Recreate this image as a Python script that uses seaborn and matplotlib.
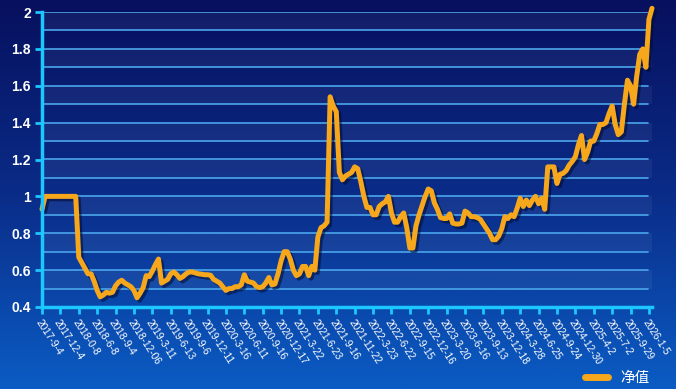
import numpy as np
import pandas as pd
import seaborn as sns
import matplotlib
matplotlib.use('Agg')
import matplotlib.pyplot as plt
import matplotlib.patheffects as pe
from matplotlib.colors import LinearSegmentedColormap
from matplotlib.lines import Line2D

# ---- data ----
tick_labels = ["2017-9-4", "2017-12-4", "2018-0-8", "2018-6-8", "2018-9-4", "2018-12-06",
               "2019-3-11", "2019-6-13", "2019-9-6", "2019-12-11", "2020-3-16", "2020-6-11",
               "2020-9-16", "2020-12-17", "2021-3-22", "2021-6-23", "2021-9-16", "2021-11-22",
               "2022-3-23", "2022-6-22", "2022-9-15", "2022-12-16", "2023-3-20", "2023-6-16",
               "2023-9-13", "2023-12-18", "2024-3-28", "2024-6-25", "2024-9-24", "2024-12-30",
               "2025-4-2", "2025-7-2", "2025-9-29", "2026-1-5"]

nav = [0.93, 1.0, 1.0, 1.0, 1.0, 1.0, 1.0, 1.0, 1.0, 1.0,
       1.0, 1.0, 0.67, 0.64, 0.61, 0.58, 0.58, 0.54, 0.49, 0.455,
       0.465, 0.48, 0.475, 0.48, 0.515, 0.535, 0.545, 0.53, 0.52, 0.51,
       0.49, 0.45, 0.475, 0.505, 0.57, 0.565, 0.595, 0.63, 0.66, 0.53,
       0.54, 0.55, 0.58, 0.59, 0.575, 0.555, 0.565, 0.58, 0.59, 0.59,
       0.585, 0.58, 0.578, 0.575, 0.575, 0.572, 0.55, 0.54, 0.53, 0.51,
       0.49, 0.50, 0.50, 0.51, 0.51, 0.52, 0.575, 0.54, 0.535, 0.53,
       0.51, 0.505, 0.51, 0.53, 0.56, 0.52, 0.525, 0.58, 0.65, 0.70,
       0.70, 0.66, 0.60, 0.57, 0.58, 0.62, 0.62, 0.57, 0.62, 0.60,
       0.78, 0.83, 0.84, 0.86, 1.54, 1.49, 1.46, 1.13, 1.09, 1.11,
       1.12, 1.13, 1.16, 1.15, 1.08, 1.00, 0.94, 0.94, 0.90, 0.90,
       0.945, 0.96, 0.97, 1.00, 0.91, 0.86, 0.86, 0.89, 0.91, 0.83,
       0.72, 0.72, 0.84, 0.90, 0.95, 1.00, 1.04, 1.03, 0.965, 0.93,
       0.885, 0.88, 0.88, 0.905, 0.855, 0.85, 0.85, 0.855, 0.92, 0.91,
       0.89, 0.89, 0.885, 0.875, 0.85, 0.825, 0.80, 0.765, 0.765, 0.785,
       0.825, 0.89, 0.88, 0.90, 0.89, 0.935, 0.99, 0.945, 0.98, 0.95,
       0.98, 1.0, 0.96, 0.99, 0.93, 1.16, 1.16, 1.16, 1.07, 1.12,
       1.125, 1.14, 1.17, 1.19, 1.215, 1.28, 1.33, 1.20, 1.24, 1.30,
       1.30, 1.34, 1.39, 1.39, 1.40, 1.45, 1.49, 1.39, 1.335, 1.35,
       1.50, 1.63, 1.60, 1.50, 1.65, 1.77, 1.80, 1.70, 1.96, 2.02]

y_ticks = [0.4, 0.6, 0.8, 1.0, 1.2, 1.4, 1.6, 1.8, 2.0]
y_tick_labels = ["0.4", "0.6", "0.8", "1", "1.2", "1.4", "1.6", "1.8", "2"]
series_name = "净值"

df = pd.DataFrame({"idx": np.arange(len(nav)), "nav": nav})

# ---- style ----
sns.set_theme(style='white')
plt.rcParams['font.family'] = ['Liberation Sans', 'Noto Sans CJK SC', 'DejaVu Sans']

W, H = 676, 389
fig = plt.figure(figsize=(W / 100, H / 100), dpi=100)

# gradient background
bg = fig.add_axes([0, 0, 1, 1], zorder=-10)
grad = np.linspace(0, 1, 256).reshape(-1, 1)
cmap = LinearSegmentedColormap.from_list('bg', ['#07105e', '#0a2c88', '#0a5cc4'])
bg.imshow(grad, aspect='auto', cmap=cmap, extent=[0, 1, 0, 1], origin='upper')
bg.axis('off')

ax = fig.add_axes([42 / W, 1 - 307 / H, (652 - 42) / W, (307 - 12) / H])
ax.set_facecolor('none')

# alternating bands + grid lines
for k in range(16):
    lo = 0.4 + 0.1 * k
    if k % 2 == 1:
        ax.axhspan(lo, lo + 0.1, color='white', alpha=0.05, lw=0, zorder=0)
for k in range(1, 17):
    ax.axhline(0.4 + 0.1 * k, xmax=0.993, color='#4aa6ec', lw=1.2, zorder=1)

cyan = '#1cc6ff'
line_color = '#f6a71c'
sns.lineplot(data=df, x='idx', y='nav', ax=ax, color=line_color, lw=3.6, legend=False, zorder=3)
ln = ax.lines[-1]
ln.set_clip_on(False)
ln.set_solid_joinstyle('round')
ln.set_path_effects([pe.SimpleLineShadow(offset=(1.8, -1.8), shadow_color='#000a30', alpha=0.55),
                     pe.Normal()])

ax.set_xlim(0, 199)
ax.set_ylim(0.4, 2.0)

xt = list(range(0, 6 * len(tick_labels), 6))
ax.set_xticks(xt)
ax.set_xticklabels(tick_labels, rotation=-57, ha='left', va='top', rotation_mode='anchor',
                   fontsize=7.3, color='white')
ax.set_yticks(y_ticks)
ax.set_yticklabels(y_tick_labels, fontsize=10, color='white', fontweight='bold')
ax.tick_params(axis='x', length=5, width=2, color=cyan, direction='out', pad=3, bottom=True)
ax.tick_params(axis='y', length=5, width=2, color=cyan, direction='out', pad=3, left=True)
ax.set_xlabel('')
ax.set_ylabel('')

for s in ['top', 'right']:
    ax.spines[s].set_visible(False)
for s in ['left', 'bottom']:
    ax.spines[s].set_color(cyan)
    ax.spines[s].set_linewidth(2.5)
    ax.spines[s].set_zorder(4)

handle = Line2D([], [], color=line_color, lw=5, solid_capstyle='round')
fig.legend([handle], [series_name], loc='center', bbox_to_anchor=(617 / W, 1 - 378 / H),
           frameon=False, labelcolor='white', prop={'family': ['Noto Sans CJK SC'], 'size': 10.5},
           handlelength=1.6, handletextpad=0.8)

fig.savefig('out.png', dpi=100)
